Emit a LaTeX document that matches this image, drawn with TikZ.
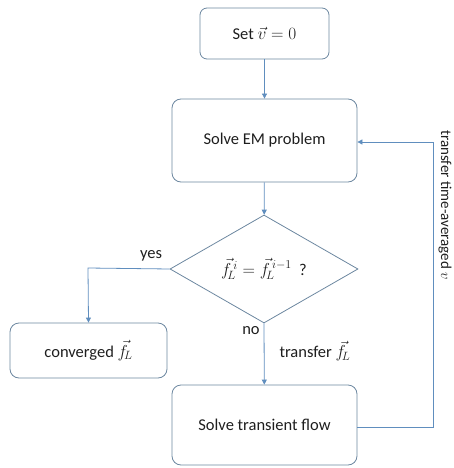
\documentclass[tikz,border=0pt]{standalone}
\usepackage{fontspec}
\setmainfont{Carlito}
\usetikzlibrary{shapes.geometric,arrows.meta}
\definecolor{boxc}{RGB}{108,135,160}
\definecolor{linec}{RGB}{96,142,190}
\definecolor{txt}{RGB}{30,30,30}
\tikzset{
  box/.style={draw=boxc, line width=0.8pt, rounded corners=9pt, inner sep=0pt, text=txt, font=\fontsize{16.5}{19}\selectfont},
  conn/.style={draw=linec, line width=0.8pt, -{Triangle[length=5pt,width=5pt]}},
  lbl/.style={font=\fontsize{16.5}{19}\selectfont, inner sep=0pt, text=txt}
}
\begin{document}
\begin{tikzpicture}[x=1pt,y=-1pt]
\useasboundingbox (0,0) rectangle (453,468);
\node[box, minimum width=129pt, minimum height=51pt, rounded corners=7pt] (set) at (264.5,33.5) {Set $\vec{v}=0$};
\node[box, minimum width=185pt, minimum height=83pt] (em) at (264.5,140.5) {Solve EM problem};
\node[draw=boxc, line width=0.8pt, diamond, minimum width=188pt, minimum height=108pt, inner sep=0pt, text=txt, font=\fontsize{16.5}{19}\selectfont] (dia) at (264,269) {$\vec{f}^{\,i}_{\!L}=\vec{f}^{\,i-1}_{\!L}$\ \ ?};
\node[box, minimum width=157pt, minimum height=55pt] (conv) at (88.5,350.5) {converged $\vec{f}_{\!L}$};
\node[box, minimum width=185pt, minimum height=80pt] (flow) at (264.5,425) {Solve transient flow};
\coordinate (yc) at (88,268);
\coordinate (fr) at (433,427);
\coordinate (fu) at (433,142);
\draw[conn] (set) -- (em);
\draw[conn] (em) -- (dia);
\draw[conn] (dia.west) -- (yc) -- (conv.north);
\draw[conn] (dia.south) -- (flow);
\draw[conn] (flow.east |- fr) -- (fr) -- (fu) -- (em.east |- fu);
\node[lbl] (yes) at (151,256) {yes};
\node[lbl] (no) at (251,331) {no};
\node[lbl] (tr) at (315,351) {transfer $\vec{f}_{\!L}$};
\node[lbl, rotate=-90, font=\fontsize{15}{17}\selectfont] (tv) at (445,205) {transfer time-averaged $v$};
\end{tikzpicture}
\end{document}
